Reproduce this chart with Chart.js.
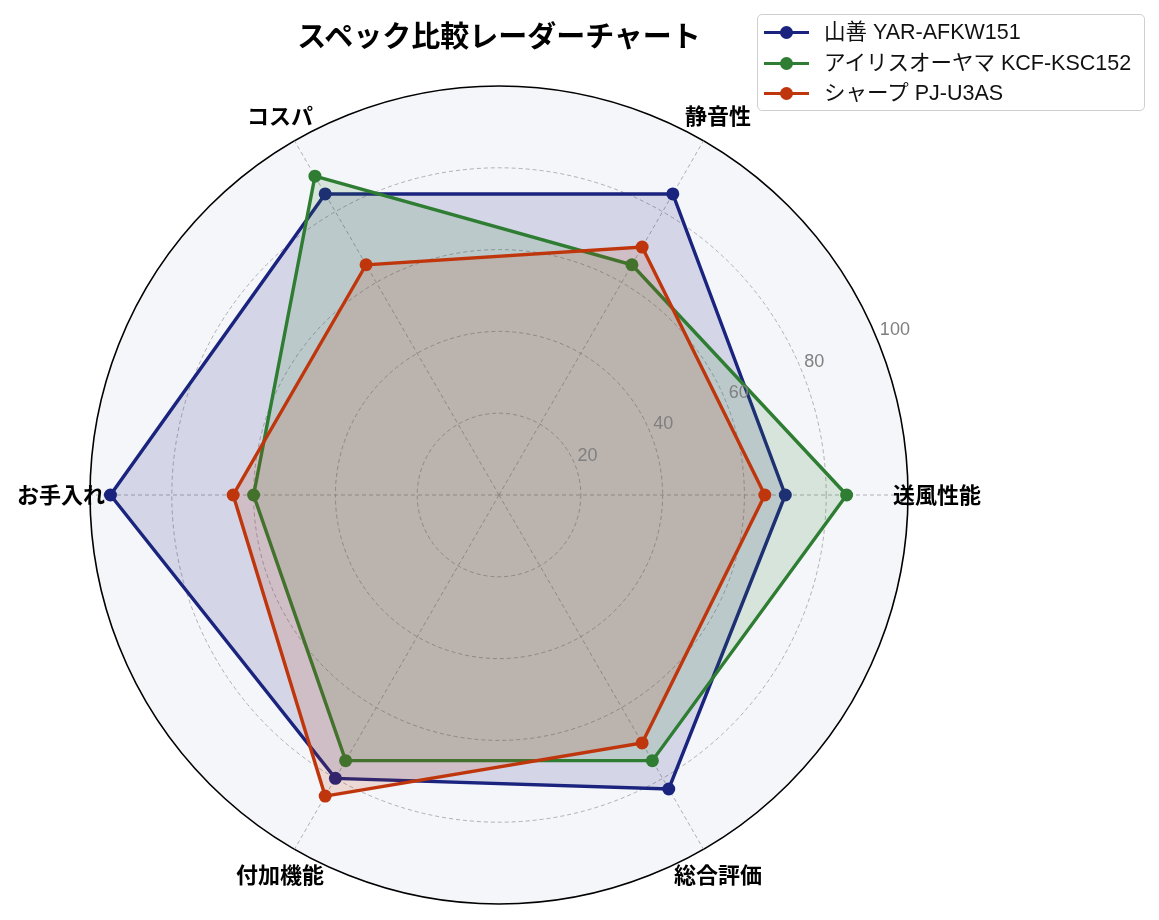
<!DOCTYPE html>
<html lang="ja">
<head>
<meta charset="utf-8">
<title>スペック比較レーダーチャート</title>
<script src="https://cdn.jsdelivr.net/npm/chart.js@4/dist/chart.umd.min.js"></script>
<style>
  html, body { margin: 0; padding: 0; background: #fff; }
  body { width: 1159px; height: 920px; position: relative; overflow: hidden;
         font-family: "Liberation Sans", "Noto Sans CJK JP", sans-serif; }
  #chart { position: absolute; left: 0; top: 0; }
  #title { position: absolute; left: 0; width: 998px; top: 14px; text-align: center;
           font-family: "Noto Sans CJK JP", sans-serif;
           font-size: 29px; font-weight: bold; color: #000; line-height: 40px; }
  #legend { position: absolute; left: 757px; top: 14px; width: 388px; height: 97px;
            border: 1.5px solid #cfcfcf; border-radius: 5px; background: rgba(255,255,255,0.8);
            box-sizing: border-box; padding-top: 2px; }
  .row { position: relative; height: 30.5px; }
  .row .ln { position: absolute; left: 6px; top: 14px; width: 45px; height: 3px; }
  .row .dot { position: absolute; left: 22px; top: 9px; width: 13px; height: 13px; border-radius: 50%; }
  .row .tx { position: absolute; left: 66px; top: 0; line-height: 31px; font-size: 21.5px; color: #111; white-space: nowrap; }
</style>
</head>
<body>
<canvas id="chart" width="1159" height="920"></canvas>
<div id="title">スペック比較レーダーチャート</div>
<div id="legend"></div>
<script>
// 項目（matplotlib と同じ、右から反時計回りの順）
const axisLabels = ['送風性能', '静音性', 'コスパ', 'お手入れ', '付加機能', '総合評価'];

const seriesNames = ['山善 YAR-AFKW151', 'アイリスオーヤマ KCF-KSC152', 'シャープ PJ-U3AS'];
const yamazen = [70, 85, 85, 95, 80, 83];
const iris = [85, 65, 90, 60, 75, 75];
const sharp = [65, 70, 65, 65, 85, 70];
const seriesColors = ['#1a237e', '#2e7d32', '#bf360c'];
const seriesFills = ['rgba(26,35,126,0.15)', 'rgba(46,125,50,0.15)', 'rgba(191,54,12,0.15)'];

const tickValues = [20, 40, 60, 80, 100];

// Chart.js は時計回りに並べるので順番を入れ替える
const order = [0, 5, 4, 3, 2, 1];
const reorder = arr => order.map(i => arr[i]);

const seriesValues = [yamazen, iris, sharp];

// legend
const legendEl = document.getElementById('legend');
seriesNames.forEach((name, i) => {
    const row = document.createElement('div');
    row.className = 'row';
    row.innerHTML = '<span class="ln" style="background:' + seriesColors[i] + '"></span>' +
        '<span class="dot" style="background:' + seriesColors[i] + '"></span>' +
        '<span class="tx">' + name + '</span>';
    legendEl.appendChild(row);
});

const CJK = '"Noto Sans CJK JP", sans-serif';
const LATIN = '"Liberation Sans", "Noto Sans", sans-serif';

const polarDecor = {
    id: 'polarDecor',
    beforeDraw(chart) {
        const s = chart.scales.r;
        const ctx = chart.ctx;
        ctx.save();
        ctx.beginPath();
        ctx.arc(s.xCenter, s.yCenter, s.drawingArea, 0, Math.PI * 2);
        ctx.fillStyle = '#f5f6fa';
        ctx.fill();
        ctx.restore();
    },
    afterDraw(chart) {
        const s = chart.scales.r;
        const ctx = chart.ctx;
        ctx.save();
        // axis labels
        ctx.font = 'bold 22px ' + CJK;
        ctx.fillStyle = '#000';
        ctx.textAlign = 'center';
        ctx.textBaseline = 'middle';
        chart.data.labels.forEach((lab, i) => {
            const p = s.getPointPosition(i, s.drawingArea + 29);
            ctx.fillText(lab, p.x, p.y);
        });
        // radial tick labels at 22.5 degrees
        ctx.font = '18px ' + LATIN;
        ctx.fillStyle = '#808080';
        ctx.textAlign = 'left';
        ctx.textBaseline = 'bottom';
        tickValues.forEach(v => {
            const d = s.getDistanceFromCenterForValue(v);
            const p = s.getPointPosition(0, d, -Math.PI / 8);
            ctx.fillText(String(v), p.x + 3, p.y + 1);
        });
        ctx.restore();
    }
};

new Chart(document.getElementById('chart'), {
    type: 'radar',
    data: {
        labels: reorder(axisLabels),
        datasets: seriesValues.map((vals, i) => ({
            label: seriesNames[i],
            data: reorder(vals),
            borderColor: seriesColors[i],
            backgroundColor: seriesFills[i],
            pointBackgroundColor: seriesColors[i],
            pointBorderColor: seriesColors[i],
            borderWidth: 3.4,
            pointRadius: 6.5,
            pointBorderWidth: 0,
            fill: true,
            order: 3 - i
        }))
    },
    options: {
        responsive: false,
        animation: false,
        devicePixelRatio: 1,
        layout: { padding: { left: 90, top: 86, right: 251, bottom: 16 } },
        plugins: {
            legend: { display: false },
            title: { display: false },
            tooltip: { enabled: false }
        },
        elements: { line: { tension: 0 } },
        scales: {
            r: {
                min: 0,
                max: 100,
                startAngle: 90,
                ticks: { display: false, stepSize: 20 },
                pointLabels: { display: false },
                grid: {
                    circular: true,
                    color: c => c.tick && c.tick.value === 100 ? '#000' : '#a8a8a8',
                    lineWidth: c => c.tick && c.tick.value === 100 ? 1.6 : 0.9
                },
                border: {
                    dash: c => c.tick && c.tick.value === 100 ? [] : [4, 3]
                },
                angleLines: {
                    color: '#a8a8a8',
                    lineWidth: 0.9,
                    borderDash: [4, 3]
                }
            }
        }
    },
    plugins: [polarDecor]
});
</script>
</body>
</html>
